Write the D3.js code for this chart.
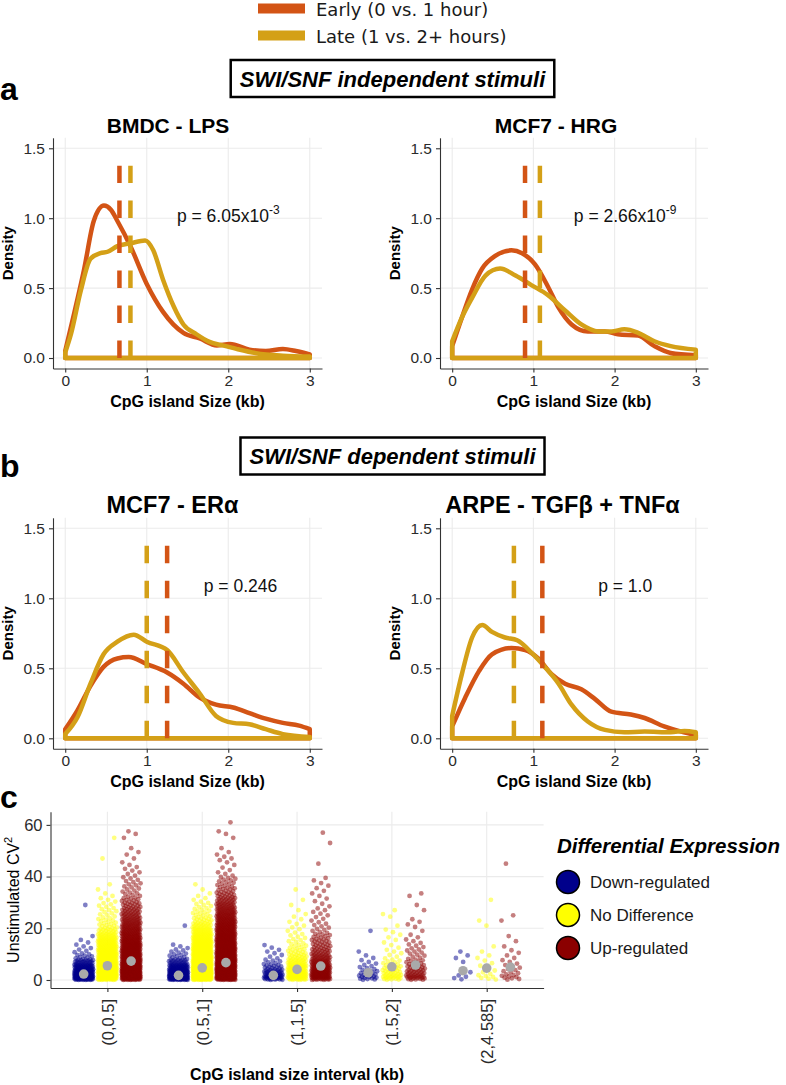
<!DOCTYPE html>
<html><head><meta charset="utf-8">
<script src="https://cdn.jsdelivr.net/npm/d3@7"></script>
<style>body{margin:0;background:#fff}svg{display:block}</style>
</head><body>
<svg id="chart" width="786" height="1085"></svg>
<script>
// ---------------- DATA ----------------
const seriesNames = ["Early (0 vs. 1 hour)", "Late (1 vs. 2+ hours)"];
const sectionTitles = ["SWI/SNF independent stimuli", "SWI/SNF dependent stimuli"];
const sectionLetters = ["a", "b", "c"];
const panelTitles = ["BMDC - LPS", "MCF7 - HRG", "MCF7 - ERα", "ARPE - TGFβ + TNFα"];
const xTicks = [0, 1, 2, 3];
const yTicks = [0, 0.5, 1.0, 1.5];
const pBase = ["p = 6.05x10", "p = 2.66x10", "p = 0.246", "p = 1.0"];
const pSup = ["-3", "-9", "", ""];
const pX = [2.0, 2.13, 2.15, 2.13];
const pY = [1.02, 1.02, 1.09, 1.09];
const medianEarly = [0.665, 0.897, 1.25, 1.11];
const medianLate = [0.80, 1.08, 1.0, 0.76];
const medianTop = 1.375;

// density curves [size kb, density]
const bmdcEarly = [[0,0.05],[0.11,0.32],[0.23,0.63],[0.35,0.98],[0.475,1.09],[0.56,1.06],[0.64,0.98],[0.8,0.80],[1.0,0.53],[1.2,0.33],[1.45,0.18],[1.65,0.14],[1.86,0.09],[2.02,0.10],[2.26,0.06],[2.46,0.05],[2.67,0.065],[2.83,0.05],[3,0.025]];
const bmdcLate = [[0,0.04],[0.07,0.17],[0.19,0.48],[0.31,0.71],[0.43,0.75],[0.52,0.76],[0.64,0.80],[0.8,0.82],[0.98,0.84],[1.08,0.77],[1.2,0.56],[1.33,0.37],[1.45,0.24],[1.61,0.17],[1.77,0.115],[1.93,0.09],[2.1,0.065],[2.34,0.035],[2.67,0.017],[3,0.01]];
const hrgEarly = [[0,0.085],[0.12,0.29],[0.245,0.49],[0.37,0.64],[0.53,0.73],[0.73,0.77],[0.86,0.75],[1.02,0.67],[1.18,0.51],[1.31,0.36],[1.47,0.24],[1.67,0.19],[1.88,0.19],[2.04,0.17],[2.29,0.16],[2.49,0.085],[2.69,0.036],[3,0.02]];
const hrgLate = [[0,0.12],[0.12,0.29],[0.245,0.43],[0.41,0.59],[0.59,0.64],[0.78,0.59],[0.98,0.52],[1.18,0.45],[1.39,0.34],[1.59,0.24],[1.8,0.19],[1.96,0.19],[2.12,0.205],[2.29,0.18],[2.49,0.12],[2.69,0.085],[3,0.06]];
const eraEarly = [[0,0.065],[0.15,0.2],[0.31,0.375],[0.47,0.51],[0.64,0.57],[0.78,0.58],[1.0,0.53],[1.25,0.47],[1.45,0.39],[1.65,0.29],[1.85,0.24],[2.06,0.22],[2.26,0.18],[2.46,0.14],[2.67,0.11],[2.87,0.09],[3,0.065]];
const eraLate = [[0,0.03],[0.15,0.15],[0.31,0.39],[0.47,0.60],[0.64,0.69],[0.84,0.74],[1.0,0.69],[1.25,0.63],[1.45,0.47],[1.65,0.32],[1.85,0.16],[2.06,0.11],[2.26,0.10],[2.46,0.065],[2.67,0.03],[3,0.01]];
const arpeEarly = [[0,0.085],[0.16,0.29],[0.33,0.48],[0.49,0.60],[0.73,0.645],[0.9,0.63],[1.06,0.57],[1.22,0.46],[1.39,0.39],[1.59,0.35],[1.76,0.28],[1.96,0.19],[2.2,0.17],[2.37,0.145],[2.61,0.085],[2.82,0.048],[3,0.024]];
const arpeLate = [[0,0.16],[0.12,0.46],[0.245,0.72],[0.37,0.81],[0.49,0.76],[0.65,0.72],[0.8,0.70],[0.98,0.61],[1.14,0.51],[1.31,0.39],[1.47,0.24],[1.67,0.12],[1.88,0.06],[2.12,0.043],[2.37,0.048],[2.69,0.043],[2.86,0.053],[3,0.043]];

// panel c
const intervals = ["(0,0.5]", "(0.5,1]", "(1,1.5]", "(1.5,2]", "(2,4.585]"];
const deGroups = ["Down-regulated", "No Difference", "Up-regulated"];
const cvTicks = [0, 20, 40, 60];
const cvBinWidth = 2; // estimated gene counts per CV^2 bin [0-2),[2-4),...
const countsDown = [
  [80,60,40,22,8,4,3,2,1,0,0,0,0,0,1],
  [90,70,40,20,8,5,3,0,0,0,1],
  [35,22,12,6,3,3,2],
  [14,8,5,3,2,1,0,0,0,1],
  [4,1,0,1,2,1]
];
const countsNoDiff = [
  [70,70,60,55,45,40,35,30,22,15,9,7,5,5,4,3,2,1,1,0,0,0,0,1,0,0,0,1],
  [90,90,80,70,60,50,45,40,32,25,18,12,8,6,5,3,2,1,1],
  [40,35,28,20,14,10,7,5,4,3,3,2,2,1,1,1,0,1],
  [20,14,10,6,3,3,2,2,2,2,1,0,2,1],
  [6,3,2,2,2,1,1,0,0,0,1,1,0,0,0,1]
];
const countsUp = [
  [80,80,70,60,55,50,45,40,35,30,26,22,18,15,12,9,6,5,5,4,3,3,2,1,2,1,0,1,2],
  [90,90,80,75,70,62,56,50,45,40,36,32,28,24,20,16,12,9,7,6,3,2,2,3,2,1,0,1,2,0,1],
  [45,40,34,26,20,15,12,10,8,5,4,3,3,3,2,2,2,2,2,2,0,0,1,0,0,0,1,0,1],
  [22,16,12,8,5,5,4,3,2,1,2,2,0,1,1,0,2],
  [8,5,4,3,2,2,1,1,1,0,0,1,1,0,0,0,0,0,0,0,0,0,1]
];
const meanDown = [2.3, 1.8, 1.8, 2.8, 3.6];
const meanNoDiff = [5.5, 4.7, 4.1, 5.1, 4.6];
const meanUp = [7.3, 6.7, 5.4, 5.8, 5.0];

// ---------------- STYLE ----------------
const FONT = "'Liberation Sans', Arial, Helvetica, sans-serif";
const colEarly = "#D35415", colLate = "#D4A017";
const deColors = ["#00008B", "#FFFF00", "#8B0000"];
const gridCol = "#ebebeb", axisCol = "#333333", tickTxt = "#2b2b2b";

const svg = d3.select("#chart");

// ---- top legend ----
const lg = svg.append("g");
[colEarly, colLate].forEach((c, i) => {
  const yy = 8.5 + i * 27;
  lg.append("line").attr("x1", 258).attr("x2", 305).attr("y1", yy).attr("y2", yy)
    .attr("stroke", c).attr("stroke-width", 10);
  lg.append("text").attr("x", 316).attr("y", yy + 7).text(seriesNames[i])
    .attr("font-family", "'DejaVu Sans', sans-serif").attr("font-size", 18).attr("fill", "#1a1a1a");
});

// ---- section boxes & letters ----
const boxes = [{y: 60, h: 37}, {y: 437.5, h: 37}];
sectionTitles.forEach((t, i) => {
  const sg = svg.append("g");
  const rect = sg.append("rect");
  const txt = sg.append("text").attr("x", 392.5).attr("y", boxes[i].y + boxes[i].h / 2 + 8)
    .attr("text-anchor", "middle").attr("font-family", FONT).attr("font-size", 22)
    .attr("font-weight", "bold").attr("font-style", "italic").text(t);
  const w = txt.node().getComputedTextLength();
  rect.attr("x", 392.5 - w / 2 - 9).attr("y", boxes[i].y)
    .attr("width", w + 18).attr("height", boxes[i].h).attr("fill", "#fff")
    .attr("stroke", "#000").attr("stroke-width", 2.5);
});
const letterY = [100, 477, 808];
sectionLetters.forEach((l, i) => {
  svg.append("text").attr("x", 0).attr("y", letterY[i]).text(l)
    .attr("font-family", FONT).attr("font-size", 32).attr("font-weight", "bold");
});

// ---- density panels ----
const densities = [[bmdcEarly, bmdcLate], [hrgEarly, hrgLate], [eraEarly, eraLate], [arpeEarly, arpeLate]];
const boxesD = [
  {l: 53, r: 322, t: 137.8, b: 368.5, tc: 168, ts: 21},
  {l: 440, r: 708, t: 137.8, b: 368.5, tc: 556, ts: 21},
  {l: 53, r: 322, t: 517.8, b: 748.8, tc: 172.5, ts: 23.5},
  {l: 440, r: 708, t: 517.8, b: 748.8, tc: 562.5, ts: 23.5}
];

boxesD.forEach((bx, i) => {
  const x = d3.scaleLinear().domain([-0.15, 3.15]).range([bx.l, bx.r]);
  const y = d3.scaleLinear().domain([-0.075, 1.575]).range([bx.b, bx.t]);
  const g = svg.append("g");
  g.selectAll(".gx").data(xTicks).join("line")
    .attr("x1", d => x(d)).attr("x2", d => x(d)).attr("y1", bx.t).attr("y2", bx.b)
    .attr("stroke", gridCol).attr("stroke-width", 1.1);
  g.selectAll(".gy").data(yTicks).join("line")
    .attr("y1", d => y(d)).attr("y2", d => y(d)).attr("x1", bx.l).attr("x2", bx.r)
    .attr("stroke", gridCol).attr("stroke-width", 1.1);

  const area = d3.area().x(d => x(d[0])).y0(y(0)).y1(d => y(d[1])).curve(d3.curveMonotoneX);
  [colEarly, colLate].forEach((c, k) => {
    g.append("path").attr("d", area(densities[i][k])).attr("fill", "none")
      .attr("stroke", c).attr("stroke-width", 4.5).attr("stroke-linejoin", "round");
  });
  [[medianEarly[i], colEarly], [medianLate[i], colLate]].forEach(([m, c]) => {
    g.append("line").attr("x1", x(m)).attr("x2", x(m)).attr("y1", y(0)).attr("y2", y(medianTop))
      .attr("stroke", c).attr("stroke-width", 4.5).attr("stroke-dasharray", "17.5 17.5");
  });

  const ax = g.append("g").attr("transform", `translate(0,${bx.b})`)
    .call(d3.axisBottom(x).tickValues(xTicks).tickFormat(d3.format("d")).tickSize(4).tickSizeOuter(0).tickPadding(2.5));
  const ay = g.append("g").attr("transform", `translate(${bx.l},0)`)
    .call(d3.axisLeft(y).tickValues(yTicks).tickFormat(d3.format(".1f")).tickSize(4).tickSizeOuter(0).tickPadding(4));
  [ax, ay].forEach(a => {
    a.select(".domain").attr("stroke", axisCol).attr("stroke-width", 1.1);
    a.selectAll(".tick line").attr("stroke", axisCol).attr("stroke-width", 1.1);
    a.selectAll(".tick text").attr("font-family", FONT).attr("font-size", 15.5).attr("fill", tickTxt);
  });

  g.append("text").attr("x", bx.tc).attr("y", bx.t - 4.5).attr("text-anchor", "middle")
    .attr("font-family", FONT).attr("font-size", bx.ts).attr("font-weight", "bold").text(panelTitles[i]);
  g.append("text").attr("x", (bx.l + bx.r) / 2).attr("y", bx.b + 38).attr("text-anchor", "middle")
    .attr("font-family", FONT).attr("font-size", 16).attr("font-weight", "bold").text("CpG island Size (kb)");
  g.append("text").attr("transform", `translate(${bx.l - 45},${(bx.t + bx.b) / 2}) rotate(-90)`)
    .attr("text-anchor", "middle").attr("dy", "0.35em")
    .attr("font-family", FONT).attr("font-size", 15).attr("font-weight", "bold").text("Density");

  const pt = g.append("text").attr("x", x(pX[i])).attr("y", y(pY[i])).attr("dy", "0.35em")
    .attr("text-anchor", "middle").attr("font-family", FONT).attr("font-size", 17.5).attr("fill", "#111");
  pt.append("tspan").text(pBase[i]);
  if (pSup[i]) pt.append("tspan").attr("dy", -8).attr("font-size", 12).text(pSup[i]);
});

// ---- panel c ----
const pc = {l: 50.5, r: 543.6, t: 811.7, b: 988};
const cx = d3.scalePoint().domain(intervals).range([pc.l, pc.r]).padding(0.6);
const cy = d3.scaleLinear().domain([-3.1, 65.1]).range([pc.b, pc.t]);
const gc = svg.append("g");
gc.selectAll(".gx").data(intervals).join("line")
  .attr("x1", d => cx(d)).attr("x2", d => cx(d)).attr("y1", pc.t).attr("y2", pc.b)
  .attr("stroke", gridCol).attr("stroke-width", 1.1);
gc.selectAll(".gy").data(cvTicks).join("line")
  .attr("y1", d => cy(d)).attr("y2", d => cy(d)).attr("x1", pc.l).attr("x2", pc.r)
  .attr("stroke", gridCol).attr("stroke-width", 1.1);

const dodge = [-0.25, 0, 0.25];
const jitterW = 0.1;
const allCounts = [countsDown, countsNoDiff, countsUp];
const pts = [];
let k = 0;
intervals.forEach((cat, ci) => {
  allCounts.forEach((grp, gi) => {
    grp[ci].forEach((n, b) => {
      for (let j = 0; j < n; j++) {
        k++;
        const jit = ((k * 0.6180339887) % 1) * 2 - 1; // deterministic jitter (position only)
        pts.push({cat, gi, off: dodge[gi] + jit * jitterW, v: b * cvBinWidth + (j + 0.5) / n * cvBinWidth});
      }
    });
  });
});
gc.selectAll(".pt").data(pts).join("circle")
  .attr("cx", d => cx(d.cat) + d.off * cx.step()).attr("cy", d => cy(d.v)).attr("r", 2.4)
  .attr("fill", d => deColors[d.gi]).attr("fill-opacity", 0.5);

const means = [meanDown, meanNoDiff, meanUp];
const meanPts = [];
intervals.forEach((cat, ci) => means.forEach((m, gi) => meanPts.push({cat, gi, v: m[ci]})));
gc.selectAll(".mn").data(meanPts).join("circle")
  .attr("cx", d => cx(d.cat) + dodge[d.gi] * cx.step()).attr("cy", d => cy(d.v)).attr("r", 4.8)
  .attr("fill", "#A9A9A9");

const cax = gc.append("g").attr("transform", `translate(0,${pc.b})`)
  .call(d3.axisBottom(cx).tickSize(4).tickSizeOuter(0));
cax.selectAll(".tick text").attr("transform", "rotate(-90)").attr("text-anchor", "end")
  .attr("x", -11).attr("y", 0).attr("dy", "0.35em");
const cay = gc.append("g").attr("transform", `translate(${pc.l},0)`)
  .call(d3.axisLeft(cy).tickValues(cvTicks).tickSize(4).tickSizeOuter(0).tickPadding(4));
[cax, cay].forEach(a => {
  a.select(".domain").attr("stroke", axisCol).attr("stroke-width", 1.1);
  a.selectAll(".tick line").attr("stroke", axisCol).attr("stroke-width", 1.1);
  a.selectAll(".tick text").attr("font-family", FONT).attr("font-size", 16.5).attr("fill", tickTxt);
});
const yt = gc.append("text").attr("transform", `translate(13,${(pc.t + pc.b) / 2}) rotate(-90)`)
  .attr("text-anchor", "middle").attr("dy", "0.35em").attr("font-family", FONT).attr("font-size", 16);
yt.append("tspan").text("Unstimulated CV");
yt.append("tspan").attr("dy", -7).attr("font-size", 11).text("2");
gc.append("text").attr("x", (pc.l + pc.r) / 2).attr("y", 1080).attr("text-anchor", "middle")
  .attr("font-family", FONT).attr("font-size", 16).attr("font-weight", "bold").text("CpG island size interval (kb)");

// legend c
const lc = svg.append("g");
lc.append("text").attr("x", 557).attr("y", 853).attr("font-family", FONT).attr("font-size", 20.5)
  .attr("font-weight", "bold").attr("font-style", "italic").text("Differential Expression");
deGroups.forEach((gname, i) => {
  const yy = 882 + i * 33;
  lc.append("circle").attr("cx", 568).attr("cy", yy).attr("r", 11.5)
    .attr("fill", deColors[i]).attr("stroke", "#000").attr("stroke-width", 1.5);
  lc.append("text").attr("x", 590).attr("y", yy).attr("dy", "0.35em").attr("font-family", FONT)
    .attr("font-size", 17).attr("fill", "#1a1a1a").text(gname);
});
</script>
</body></html>
